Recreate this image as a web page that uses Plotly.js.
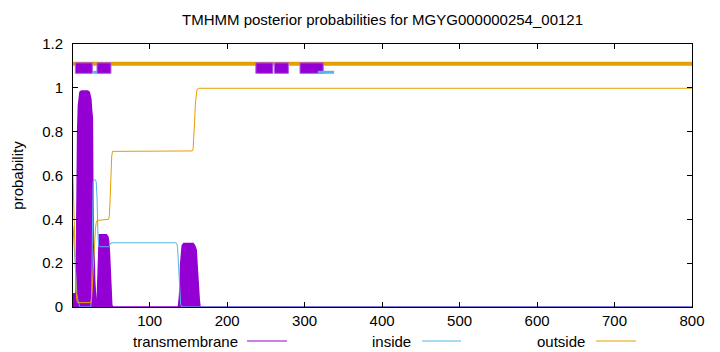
<!DOCTYPE html>
<html><head><meta charset="utf-8">
<script src="https://cdn.plot.ly/plotly-3.0.1.min.js"></script>
<style>html,body{margin:0;padding:0;background:#fff}#chart{width:720px;height:352px}</style>
</head><body><div id="chart"></div>
<script>
// posterior probabilities (residue position, probability)
const tmX = [1,2,3,4,5,6,7,8,9,10,12,15,20,22,23,24,25,26,27,28,29,30,31,32,33,34,35,36,40,44,46,47,48,49,50,51,52,136,137,138,139,140,141,142,144,150,156,158,159,160,161,162,163,164,165,800];
const tmY = [0.06,0.06,0.06,0.06,0.07,0.69,0.80,0.92,0.96,0.98,0.985,0.985,0.985,0.98,0.97,0.95,0.90,0.86,0.28,0.25,0.12,0.03,0,0,0.15,0.30,0.33,0.33,0.33,0.33,0.32,0.30,0.25,0.15,0.05,0.01,0,0,0,0.03,0.08,0.20,0.26,0.28,0.29,0.29,0.29,0.28,0.27,0.26,0.20,0.12,0.08,0.03,0,0];
const insideX = [1,2,3,4,5,6,7,8,9,10,24,25,26,27,28,30,31,32,33,34,36,47,48,49,50,134,135,136,137,138,139,140,142,800];
const insideY = [0.37,0.30,0.22,0.15,0.10,0.06,0.04,0.02,0.01,0,0,0.05,0.40,0.57,0.58,0.58,0.57,0.50,0.35,0.28,0.275,0.275,0.28,0.29,0.293,0.293,0.29,0.27,0.20,0.10,0.04,0.01,0,0];
const outsideX = [1,2,3,4,5,6,7,24,25,26,27,28,29,30,31,32,47,48,49,50,51,52,155,156,157,158,159,160,161,163,800];
const outsideY = [0.60,0.45,0.30,0.17,0.07,0.03,0.02,0.02,0.04,0.10,0.18,0.25,0.31,0.36,0.385,0.395,0.40,0.42,0.50,0.62,0.69,0.71,0.712,0.72,0.77,0.85,0.93,0.97,0.99,0.998,0.998];

// predicted topology segments
const outStart = [1], outEnd = [800];
const tmStart = [4,32,237,261,294], tmEnd = [26,50,259,279,324];
const inStart = [27,317], inEnd = [32,338];

const seriesNames = ['transmembrane','inside','outside'];
const colTM = '#9400D3', colIn = '#56B4E9', colOut = '#E69F00';
const FONT = 'Liberation Sans, Arial, sans-serif';

// plot-area geometry (pixels)
const L = 73, R = 692, T = 44, B = 307;
const W = R - L, H = B - T;
const px = x => (x - L) / W;
const py = y => (B - y) / H;

function segTrace(starts, ends, yv, color, width) {
  const x = [], y = [];
  starts.forEach((s, i) => { x.push(s, ends[i], null); y.push(yv, yv, null); });
  return {x, y, mode:'lines', line:{color, width}, hoverinfo:'skip', showlegend:false, connectgaps:false};
}
function boxTrace(starts, ends, lo, hi, color) {
  const x = [], y = [];
  starts.forEach((s, i) => { const e = ends[i]; x.push(s, e, e, s, s, null); y.push(lo, lo, hi, hi, lo, null); });
  return {x, y, mode:'lines', fill:'toself', fillcolor:color, line:{color:'#b35fe3', width:1}, hoverinfo:'skip', showlegend:false};
}

const traces = [
  {x: tmX, y: tmY, mode:'lines', fill:'tozeroy', fillcolor:colTM, line:{color:colTM, width:1.5}, name:seriesNames[0], showlegend:false},
  {x: insideX, y: insideY, mode:'lines', line:{color:colIn, width:1}, name:seriesNames[1], showlegend:false},
  {x: outsideX, y: outsideY, mode:'lines', line:{color:colOut, width:1}, name:seriesNames[2], showlegend:false},
  segTrace(outStart, outEnd, 1.11, colOut, 4),
  boxTrace(tmStart, tmEnd, 1.066, 1.114, colTM),
  segTrace(inStart, inEnd, 1.071, colIn, 3)
];

// manual gnuplot-style key: text then sample line
const keyY = 341;
const keyItems = [
  {text: seriesNames[0], textEnd: 240, l0: 247, l1: 287, color: colTM},
  {text: seriesNames[1], textEnd: 413, l0: 422, l1: 461, color: colIn},
  {text: seriesNames[2], textEnd: 587, l0: 596, l1: 636, color: colOut}
];
const annotations = keyItems.map(k => ({
  xref:'paper', yref:'paper', x: px(k.textEnd), y: py(keyY), xanchor:'right', yanchor:'middle',
  text: k.text, showarrow:false, font:{family:FONT, size:15, color:'#000'}
}));
const shapes = keyItems.map(k => ({
  type:'line', xref:'paper', yref:'paper', x0: px(k.l0), x1: px(k.l1), y0: py(keyY), y1: py(keyY),
  line:{color:k.color, width:1}
}));

const layout = {
  width:720, height:352,
  margin:{l:L, r:720-R, t:T, b:352-B, pad:0},
  paper_bgcolor:'#fff', plot_bgcolor:'#fff',
  font:{family:FONT, size:15, color:'#000'},
  title:{text:'TMHMM posterior probabilities for MGYG000000254_00121', font:{family:FONT, size:15, color:'#000'},
         x:0.5, xref:'paper', y:1-20/352, yref:'container', yanchor:'middle'},
  xaxis:{range:[1,800], tick0:0, dtick:100, ticks:'inside', ticklen:5, tickcolor:'#000',
         showline:true, linecolor:'#000', linewidth:1, mirror:'ticks', showgrid:false, zeroline:false,
         tickfont:{family:FONT, size:15, color:'#000'}},
  yaxis:{range:[0,1.2], tick0:0, dtick:0.2, ticks:'inside', ticklen:5, tickcolor:'#000',
         showline:true, linecolor:'#000', linewidth:1, mirror:'ticks', showgrid:false, zeroline:false,
         tickfont:{family:FONT, size:15, color:'#000'}, ticklabelstandoff:6,
         title:{text:'probability', font:{family:FONT, size:15, color:'#000'}, standoff:14}},
  annotations, shapes, showlegend:false
};

Plotly.newPlot('chart', traces, layout, {staticPlot:true, displayModeBar:false});
</script></body></html>
